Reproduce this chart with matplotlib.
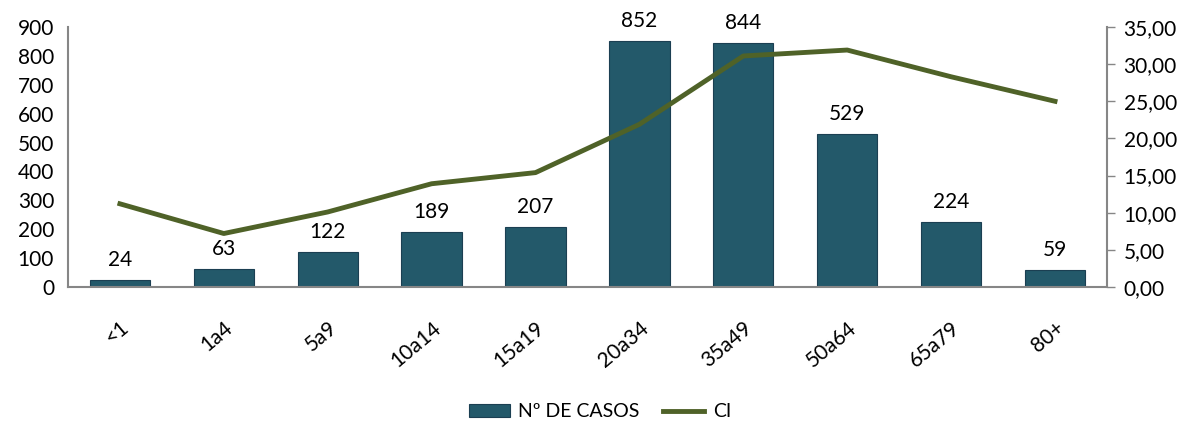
import matplotlib
matplotlib.use('Agg')
import matplotlib.pyplot as plt
import numpy as np

categories = ['<1', '1a4', '5a9', '10a14', '15a19', '20a34', '35a49', '50a64', '65a79', '80+']
casos = [24, 63, 122, 189, 207, 852, 844, 529, 224, 59]
ci = [11.2, 7.2, 10.1, 13.9, 15.4, 21.9, 31.1, 31.9, 28.3, 25.0]

bar_color = '#23596A'
line_color = '#4F6228'
axis_color = '#868686'

plt.rcParams['font.family'] = ['Lato', 'DejaVu Sans']

fig = plt.figure(figsize=(11.88, 4.26), dpi=100)
ax = fig.add_axes([0.0572, 0.3263, 0.8746, 0.6103])
x = np.arange(len(categories))

ax.bar(x, casos, width=0.58, color=bar_color, edgecolor='#1B3F52', linewidth=0.8,
       label='Nº DE CASOS', zorder=2)
for xi, v in zip(x, casos):
    ax.text(xi, v + 35, str(v), ha='center', va='bottom', fontsize=15)

ax.set_xlim(-0.5, len(categories) - 0.5)
ax.set_ylim(0, 900)
ax.set_yticks(np.arange(0, 901, 100))
ax.set_xticks(x)
ax.set_xticklabels(categories, rotation=40, ha='right', rotation_mode='anchor')
ax.tick_params(axis='x', length=0, pad=22, labelsize=15)
ax.tick_params(axis='y', length=0, pad=10, labelsize=15)
ax.spines['top'].set_visible(False)
ax.spines['right'].set_visible(False)
ax.spines['left'].set_color(axis_color)
ax.spines['bottom'].set_color(axis_color)
ax.spines['left'].set_linewidth(1.5)
ax.spines['bottom'].set_linewidth(1.5)

ax2 = ax.twinx()
ax2.plot(x, ci, color=line_color, linewidth=3.5, label='CI', zorder=3)
ax2.set_ylim(0, 35)
ax2.set_yticks(np.arange(0, 36, 5))
ax2.set_yticklabels([f'{v:.2f}'.replace('.', ',') for v in np.arange(0, 36, 5)])
ax2.tick_params(axis='y', length=6, width=1, color=axis_color, pad=6, labelsize=15)
for s in ['top', 'left', 'bottom']:
    ax2.spines[s].set_visible(False)
ax2.spines['right'].set_color(axis_color)
ax2.spines['right'].set_linewidth(1.5)

h1, l1 = ax.get_legend_handles_labels()
h2, l2 = ax2.get_legend_handles_labels()
fig.legend(h1 + h2, l1 + l2, loc='center', bbox_to_anchor=(0.505, 0.033), ncol=2,
           frameon=False, fontsize=14, handlelength=2.1, handleheight=0.7,
           columnspacing=1.2, handletextpad=0.45)

fig.savefig('out.png', dpi=100)
